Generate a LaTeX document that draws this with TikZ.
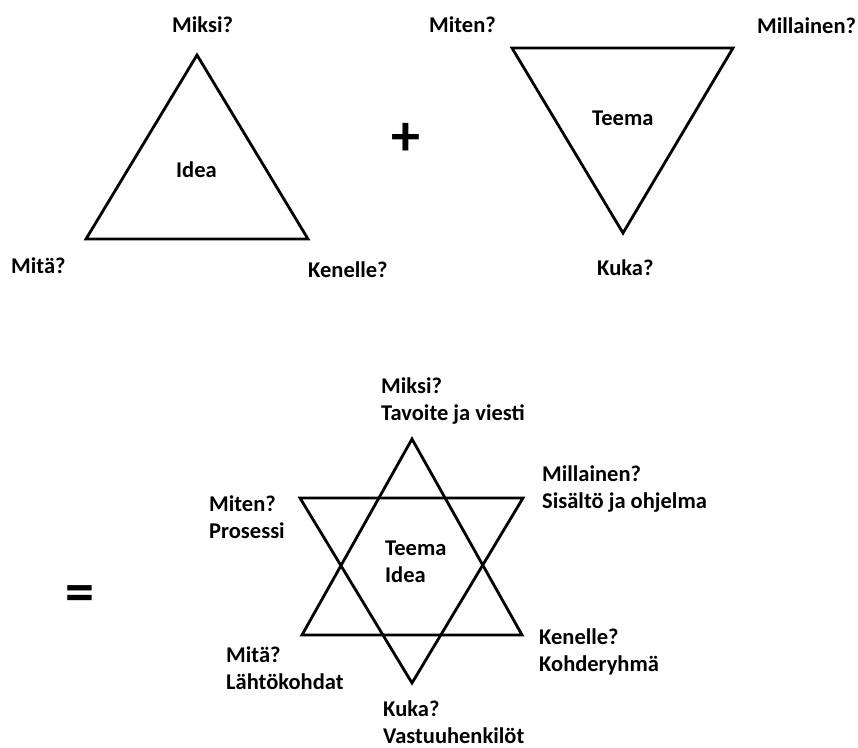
\documentclass[tikz,border=0pt]{standalone}
\usepackage{fontspec}
\setmainfont{Carlito}
\begin{document}
\begin{tikzpicture}[x=1pt,y=-1pt,
  lbl/.style={font=\bfseries\fontsize{22.5}{26.5}\selectfont,inner sep=0pt,anchor=base west,align=left},
  sym/.style={font=\bfseries\fontsize{58}{60}\selectfont,inner sep=0pt},
  tri/.style={draw,line width=2.8pt,line join=miter}]
\useasboundingbox (0,0) rectangle (858,747);
% top-left triangle
\coordinate (a1) at (197,55);
\coordinate (a2) at (86,239);
\coordinate (a3) at (308,239);
\draw[tri] (a1) -- (a2) -- (a3) -- cycle;
\node[lbl] (miksi1) at (172,32) {Miksi?};
\node[lbl] (idea1) at (176,177) {Idea};
\node[lbl] (mita1) at (11,273) {Mitä?};
\node[lbl] (kenelle1) at (308,277) {Kenelle?};
% plus
\node[sym] (plus) at (406,139) {+};
% top-right triangle
\coordinate (b1) at (512,48);
\coordinate (b2) at (733,48);
\coordinate (b3) at (623,233);
\draw[tri] (b1) -- (b2) -- (b3) -- cycle;
\node[lbl] (miten1) at (429,32) {Miten?};
\node[lbl] (millainen1) at (757,33) {Millainen?};
\node[lbl] (teema1) at (592,125) {Teema};
\node[lbl] (kuka1) at (597,275) {Kuka?};
% equals
\node[sym] (eq) at (80,599) {=};
% star
\coordinate (s1) at (412,439);
\coordinate (s2) at (302,635);
\coordinate (s3) at (522,635);
\coordinate (t1) at (300,498);
\coordinate (t2) at (523,498);
\coordinate (t3) at (412,683);
\draw[tri] (s1) -- (s2) -- (s3) -- cycle;
\draw[tri] (t1) -- (t2) -- (t3) -- cycle;
\node[lbl] (miksi2) at (381,420) {Miksi?\\Tavoite ja viesti};
\node[lbl] (millainen2) at (542,508) {Millainen?\\Sisältö ja ohjelma};
\node[lbl] (miten2) at (209,538) {Miten?\\Prosessi};
\node[lbl] (teema2) at (385,582) {Teema\\Idea};
\node[lbl] (kenelle2) at (539,671) {Kenelle?\\Kohderyhmä};
\node[lbl] (mita2) at (226,689) {Mitä?\\Lähtökohdat};
\node[lbl] (kuka2) at (383,743) {Kuka?\\Vastuuhenkilöt};
\end{tikzpicture}
\end{document}
